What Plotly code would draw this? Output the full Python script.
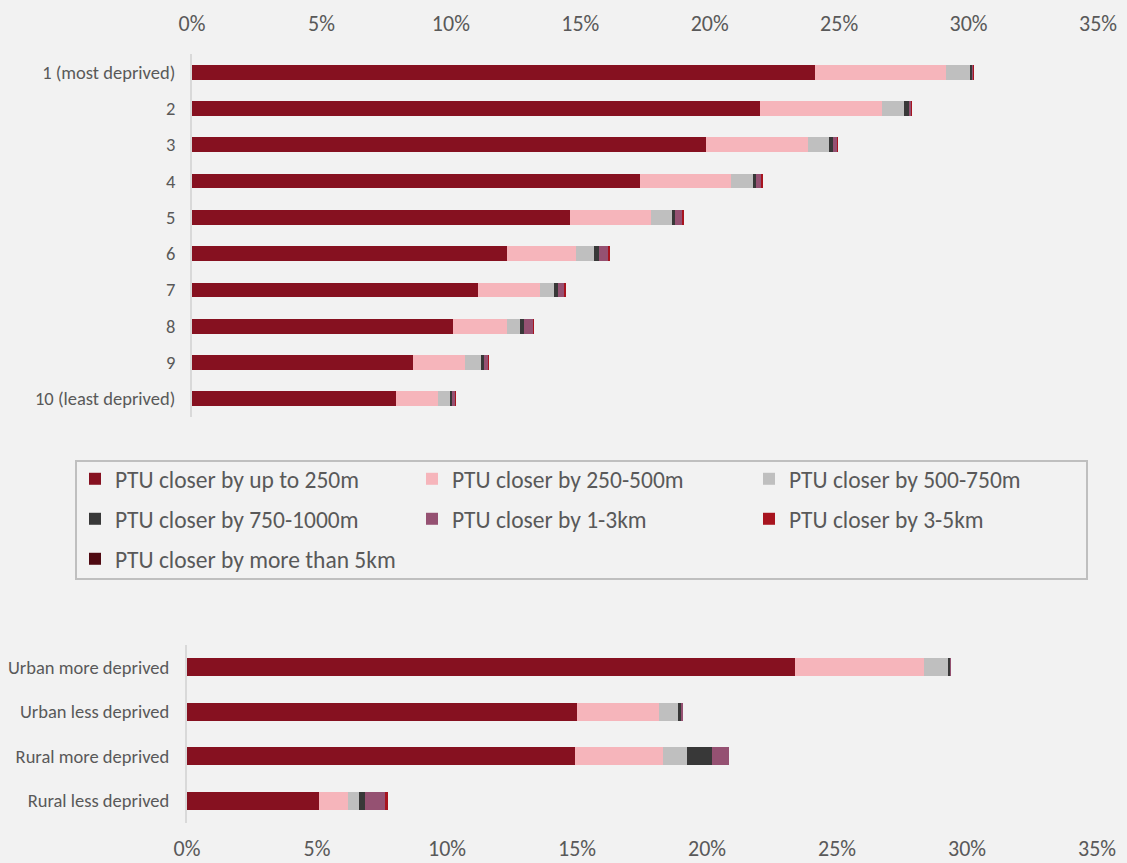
import plotly.graph_objects as go

W, H = 1127, 863

# ---------------- data ----------------
deciles = ["1 (most deprived)", "2", "3", "4", "5", "6", "7", "8", "9", "10 (least deprived)"]
groups = ["Urban more deprived", "Urban less deprived", "Rural more deprived", "Rural less deprived"]

series_names = [
    "PTU closer by up to 250m",
    "PTU closer by 250-500m",
    "PTU closer by 500-750m",
    "PTU closer by 750-1000m",
    "PTU closer by 1-3km",
    "PTU closer by 3-5km",
    "PTU closer by more than 5km",
]
series_colors = ["#861120", "#f6b5bb", "#bfbfbf", "#383838", "#955172", "#a8141f", "#4f0a12"]

# decile values (% of population)
dec_up_to_250 = [24.08, 21.96, 19.86, 17.32, 14.61, 12.16, 11.03, 10.07, 8.53, 7.87]
dec_250_500 = [5.05, 4.70, 3.94, 3.51, 3.11, 2.68, 2.40, 2.10, 2.03, 1.63]
dec_500_750 = [0.95, 0.85, 0.80, 0.84, 0.84, 0.70, 0.55, 0.51, 0.60, 0.45]
dec_750_1000 = [0.07, 0.21, 0.15, 0.13, 0.10, 0.19, 0.15, 0.16, 0.11, 0.08]
dec_1_3km = [0.03, 0.07, 0.18, 0.19, 0.30, 0.35, 0.27, 0.34, 0.18, 0.15]
dec_3_5km = [0.01, 0.01, 0.02, 0.06, 0.04, 0.04, 0.01, 0.01, 0.01, 0.01]
dec_over_5km = [0.0, 0.0, 0.0, 0.0, 0.0, 0.0, 0.0, 0.0, 0.0, 0.0]

# urban / rural values
grp_up_to_250 = [23.40, 15.01, 14.92, 5.06]
grp_250_500 = [4.93, 3.14, 3.40, 1.15]
grp_500_750 = [0.93, 0.75, 0.91, 0.42]
grp_750_1000 = [0.09, 0.10, 0.96, 0.21]
grp_1_3km = [0.03, 0.09, 0.65, 0.79]
grp_3_5km = [0.0, 0.0, 0.0, 0.09]
grp_over_5km = [0.0, 0.0, 0.0, 0.0]

tick_values = [0, 5, 10, 15, 20, 25, 30, 35]
tick_labels = ["0%", "5%", "10%", "15%", "20%", "25%", "30%", "35%"]

dec_series = [dec_up_to_250, dec_250_500, dec_500_750, dec_750_1000, dec_1_3km, dec_3_5km, dec_over_5km]
grp_series = [grp_up_to_250, grp_250_500, grp_500_750, grp_750_1000, grp_1_3km, grp_3_5km, grp_over_5km]
legend_ids = ["legend", "legend", "legend", "legend2", "legend2", "legend2", "legend3"]

FONT = "Calibri, Carlito, Lato, sans-serif"
TXT = "#595959"

fig = go.Figure()
for name, color, dv, gv, lg in zip(series_names, series_colors, dec_series, grp_series, legend_ids):
    fig.add_trace(go.Bar(
        y=deciles, x=dv, name=name, orientation="h",
        marker=dict(color=color, line=dict(width=0)),
        xaxis="x", yaxis="y", legend=lg, legendgroup=name, showlegend=True,
    ))
    fig.add_trace(go.Bar(
        y=groups, x=gv, name=name, orientation="h",
        marker=dict(color=color, line=dict(width=0)),
        xaxis="x2", yaxis="y2", legend=lg, legendgroup=name, showlegend=False,
    ))

def px_x(p):
    return p / W

def px_y(p):
    return 1 - p / H

axis_common = dict(
    range=[0, 35], tickvals=tick_values, ticktext=tick_labels,
    showgrid=False, zeroline=False, showline=False, ticks="",
    tickfont=dict(family=FONT, size=22, color=TXT),
    fixedrange=True, automargin=False,
)

yaxis_common = dict(
    autorange="reversed", showline=True, linecolor="#d9d9d9", linewidth=2,
    ticks="", showgrid=False, zeroline=False,
    tickfont=dict(family=FONT, size=18.5, color=TXT),
    fixedrange=True, automargin=False,
)

legend_common = dict(
    orientation="h", entrywidth=292, entrywidthmode="pixels",
    font=dict(family=FONT, size=23.5, color=TXT),
    bgcolor="rgba(0,0,0,0)", borderwidth=0,
    xanchor="left", yanchor="middle", x=px_x(75),
    itemclick=False, itemdoubleclick=False,
)

fig.update_layout(
    width=W, height=H, autosize=False,
    margin=dict(l=0, r=0, t=0, b=0, pad=0),
    paper_bgcolor="#f2f2f2", plot_bgcolor="#f2f2f2",
    barmode="stack", bargap=0.59,
    font=dict(family=FONT, color=TXT),
    xaxis=dict(domain=[px_x(192), px_x(1098)], anchor="y", side="top",
               ticklabelstandoff=18, **axis_common),
    yaxis=dict(domain=[px_y(417), px_y(54)], anchor="x",
               ticklabelstandoff=11, **yaxis_common),
    xaxis2=dict(domain=[px_x(187), px_x(1097)], anchor="y2", side="bottom",
                ticklabelstandoff=10, **axis_common),
    yaxis2=dict(domain=[px_y(823), px_y(645)], anchor="x2",
                ticklabelstandoff=12, **yaxis_common),
    legend=dict(y=px_y(479), **legend_common),
    legend2=dict(y=px_y(519), **legend_common),
    legend3=dict(y=px_y(559), **legend_common),
    shapes=[dict(type="rect", xref="paper", yref="paper",
                 x0=px_x(76), x1=px_x(1087), y0=px_y(461), y1=px_y(579),
                 line=dict(color="#bfbfbf", width=2), fillcolor="rgba(0,0,0,0)")],
)

page_fix = (
    "document.documentElement.style.margin='0';"
    "document.documentElement.style.overflow='hidden';"
    "document.body.style.margin='0';"
    "document.body.style.overflow='hidden';"
    "document.body.style.background='#f2f2f2';"
)

fig.write_html("out.html", config={"responsive": False, "displayModeBar": False},
               post_script=page_fix)
